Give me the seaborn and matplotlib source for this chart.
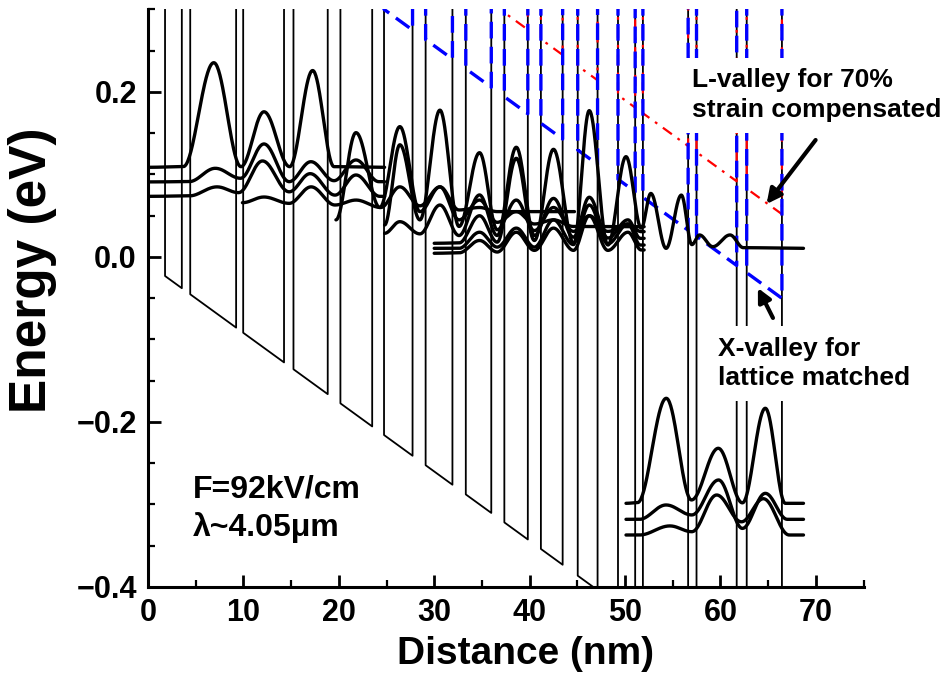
import numpy as np
import pandas as pd
import matplotlib
matplotlib.use("Agg")
import matplotlib.pyplot as plt
from matplotlib.ticker import MultipleLocator
import seaborn as sns

# ---------------- data ----------------
# layer interfaces (nm): barrier|well|barrier|well ...
interfaces = [1.79, 3.55, 4.43, 9.24, 9.98, 14.26, 15.25, 18.84, 20.17, 23.50,
              24.74, 27.73, 29.10, 31.91, 33.31, 35.98, 37.35, 39.81, 41.18, 43.46,
              45.04, 47.12, 49.26, 51.06, 51.87, 56.61, 57.49, 61.70, 62.75, 66.44]
x_end = 68.7
slope = 0.0084            # eV/nm, band tilt under bias
gamma_well0 = -0.008      # Gamma well bottom at x=0 (eV)
gamma_barrier_step = 1.0  # barrier height (off scale)
xval_well0 = 0.508        # X-valley (lattice matched) in wells at x=0
lval_well0 = 0.610        # L-valley (70% strain compensated) in wells at x=0
valley_barrier_step = 0.8

# wavefunctions: (x in nm, energy in eV) extrema
A1_x = [0, 3.7, 6.9, 9.75, 12.16, 14.85, 17.26, 19.5, 24.8]
A1_E = [0.1087, 0.1095, 0.2355, 0.1095, 0.176, 0.1095, 0.226, 0.1095, 0.1087]
A2_x = [0, 4.3, 7.06, 9.7, 12.16, 14.8, 17.08, 19.5, 21.8, 24.2, 24.8]
A2_E = [0.091, 0.0913, 0.1075, 0.0954, 0.137, 0.0913, 0.1155, 0.0925, 0.1176, 0.0913, 0.0913]
A3_x = [0, 4.3, 7.24, 9.5, 12.0, 14.8, 17.0, 19.6, 21.8, 24.3, 24.8]
A3_E = [0.0735, 0.074, 0.085, 0.078, 0.1164, 0.079, 0.101, 0.075, 0.0994, 0.0735, 0.0735]
A4_x = [9.9, 12.16, 14.8, 17.1, 19.6, 21.8, 24.4, 26.4, 28.5, 30.6, 32.6, 34.75, 36.6, 44.7]
A4_E = [0.0658, 0.0727, 0.065, 0.085, 0.063, 0.069, 0.06, 0.085, 0.062, 0.085, 0.057, 0.06, 0.055, 0.055]
M1_x = [19.7, 21.8, 24.3, 26.4, 28.5, 30.6, 32.6, 34.75, 36.6, 38.6, 40.5, 42.5, 44.6, 52.0]
M1_E = [0.045, 0.1507, 0.06, 0.158, 0.055, 0.085, 0.045, 0.069, 0.042, 0.055, 0.04, 0.045, 0.037, 0.0367]
M2_x = [24.8, 26.4, 28.5, 30.6, 32.6, 34.75, 36.6, 38.6, 40.5, 42.5, 44.6, 46.25, 48.2, 50.3, 51.7, 52.0]
M2_E = [0.0388, 0.136, 0.045, 0.178, 0.037, 0.1264, 0.033, 0.069, 0.032, 0.06, 0.031, 0.05, 0.031, 0.04, 0.0307, 0.0307]
M3_x = [24.8, 26.4, 28.5, 30.6, 32.6, 34.75, 36.6, 38.6, 40.5, 42.5, 44.6, 46.25, 48.2, 50.3, 51.6, 52.0]
M3_E = [0.0287, 0.0428, 0.028, 0.063, 0.026, 0.0752, 0.026, 0.133, 0.026, 0.071, 0.024, 0.0724, 0.023, 0.045, 0.0226, 0.0226]
M4_x = [30.0, 32.6, 34.75, 36.6, 38.6, 40.5, 42.5, 44.6, 46.25, 48.2, 50.3, 51.6, 52.0]
M4_E = [0.0166, 0.017, 0.05, 0.018, 0.1196, 0.02, 0.1305, 0.017, 0.063, 0.016, 0.04, 0.0145, 0.0145]
C1_x = [30.0, 32.6, 34.75, 36.6, 38.6, 40.5, 42.5, 44.6, 46.25, 48.2, 50.1, 51.7, 52.7,
        54.3, 55.9, 57.0, 57.8, 59.2, 61.0, 62.4, 68.7]
C1_E = [0.0105, 0.0105, 0.03, 0.012, 0.035, 0.012, 0.045, 0.015, 0.1774, 0.0145, 0.1216, 0.035, 0.077,
        0.0105, 0.075, 0.015, 0.0267, 0.0125, 0.0267, 0.0113, 0.0105]
M6_x = [30.0, 32.6, 34.75, 36.6, 38.6, 40.5, 42.5, 44.6, 46.25, 48.2, 50.3, 51.7, 52.0]
M6_E = [0.0045, 0.005, 0.02, 0.006, 0.03, 0.008, 0.035, 0.008, 0.05, 0.008, 0.03, 0.0085, 0.0085]
R1_x = [50.1, 51.3, 54.32, 56.96, 59.77, 62.3, 64.7, 66.8, 68.7]
R1_E = [-0.2986, -0.2978, -0.1713, -0.2945, -0.2319, -0.298, -0.1834, -0.2986, -0.2986]
R2_x = [50.1, 51.5, 54.3, 57.0, 59.8, 62.3, 64.7, 67.0, 68.7]
R2_E = [-0.318, -0.318, -0.3006, -0.3127, -0.2703, -0.329, -0.2865, -0.318, -0.318]
R3_x = [50.1, 51.5, 54.7, 57.0, 59.6, 62.2, 64.5, 67.2, 68.7]
R3_E = [-0.337, -0.337, -0.326, -0.333, -0.2885, -0.321, -0.293, -0.337, -0.337]

states = [(A1_x, A1_E), (A2_x, A2_E), (A3_x, A3_E), (A4_x, A4_E), (M1_x, M1_E),
          (M2_x, M2_E), (M3_x, M3_E), (M4_x, M4_E), (C1_x, C1_E), (M6_x, M6_E),
          (R1_x, R1_E), (R2_x, R2_E), (R3_x, R3_E)]

xticks = [0, 10, 20, 30, 40, 50, 60, 70]
yticks = [-0.4, -0.2, 0.0, 0.2]
ytick_labels = ["\u22120.4", "\u22120.2", "0.0", "0.2"]

# ---------------- style ----------------
sns.set_theme(style="ticks")
plt.rcParams["font.family"] = ["Liberation Sans", "DejaVu Sans"]
plt.rcParams["lines.scale_dashes"] = False
plt.rcParams["text.color"] = "black"

fig = plt.figure(figsize=(9.46, 6.93), dpi=100)
ax = fig.add_axes([0.1564, 0.153, 0.7565, 0.8333])


def profile(well0, step):
    xs, ys = [0.0], [well0 + step]
    for i, xi in enumerate(interfaces):
        w = well0 - slope * xi
        if i % 2 == 0:   # barrier -> well
            xs += [xi, xi]; ys += [w + step, w]
        else:            # well -> barrier
            xs += [xi, xi]; ys += [w, w + step]
    xs.append(x_end); ys.append(well0 - slope * x_end + step)
    return np.array(xs), np.array(ys)


def smooth(px, py, n=40):
    xs, ys = [], []
    for x0, y0, x1, y1 in zip(px[:-1], py[:-1], px[1:], py[1:]):
        t = np.linspace(0, 1, n, endpoint=False)
        xs.extend(x0 + (x1 - x0) * t)
        ys.extend(y0 + (y1 - y0) * (1 - np.cos(np.pi * t)) / 2)
    xs.append(px[-1]); ys.append(py[-1])
    return np.array(xs), np.array(ys)


# Gamma band profile
gx, gy = profile(gamma_well0, gamma_barrier_step)
sns.lineplot(x=gx, y=gy, ax=ax, sort=False, estimator=None, color="black", lw=1.3, zorder=2)
# L-valley (red dash-dot)
lx, ly = profile(lval_well0, valley_barrier_step)
sns.lineplot(x=lx, y=ly, ax=ax, sort=False, estimator=None, color="#ff0000", lw=1.6,
             linestyle=(0, (8, 5, 2, 5)), zorder=3)
# X-valley (blue dashed)
xx, xy = profile(xval_well0, valley_barrier_step)
sns.lineplot(x=xx, y=xy, ax=ax, sort=False, estimator=None, color="#0000ff", lw=2.4,
             linestyle=(0, (12, 6)), zorder=4)

for sx, sy in states:
    cx, cy = smooth(sx, sy)
    sns.lineplot(x=cx, y=cy, ax=ax, sort=False, estimator=None, color="black", lw=2.4, zorder=5)

ax.set_xlim(0, 75)
ax.set_ylim(-0.4, 0.3)
ax.set_xticks(xticks)
ax.set_xticklabels([str(t) for t in xticks])
ax.set_yticks(yticks)
ax.set_yticklabels(ytick_labels)
ax.xaxis.set_minor_locator(MultipleLocator(5))
ax.yaxis.set_minor_locator(MultipleLocator(0.05))
ax.tick_params(which="major", direction="in", length=9, width=2, color="black",
               labelsize=22, labelcolor="black", bottom=True, left=True, pad=8)
ax.tick_params(which="minor", direction="in", length=5, width=1.6, color="black",
               bottom=True, left=True)
for lab in ax.get_xticklabels() + ax.get_yticklabels():
    lab.set_fontweight("bold")
for s in ["top", "right"]:
    ax.spines[s].set_visible(False)
for s in ["left", "bottom"]:
    ax.spines[s].set_linewidth(2.2)
    ax.spines[s].set_color("black")

ax.set_xlabel("Distance (nm)", fontsize=28, fontweight="bold", color="black")
ax.set_ylabel("Energy (eV)", fontsize=37, fontweight="bold", color="black")
ax.xaxis.set_label_coords(0.528, -0.085)
ax.yaxis.set_label_coords(-0.127, 0.549)

ax.text(4.74, -0.2824, "F=92kV/cm", fontsize=23, fontweight="bold", va="center", ha="left")
ax.text(4.74, -0.3285, "λ~4.05μm", fontsize=23, fontweight="bold", va="center", ha="left")

ax.text(57.05, 0.196, "L-valley for 70%\nstrain compensated", fontsize=19, fontweight="bold",
        va="center", ha="left", linespacing=1.3, clip_on=False, zorder=10,
        bbox=dict(boxstyle="square,pad=0.4", fc="white", ec="none"))
ax.text(59.77, -0.129, "X-valley for\nlattice matched", fontsize=19, fontweight="bold",
        va="center", ha="left", linespacing=1.3, clip_on=False, zorder=10,
        bbox=dict(boxstyle="square,pad=0.4", fc="white", ec="none"))

ax.annotate("", xy=(64.83, 0.0642), xytext=(69.97, 0.1418), annotation_clip=False, zorder=11,
            arrowprops=dict(arrowstyle="-|>", color="black", lw=3, mutation_scale=22,
                            shrinkA=0, shrinkB=0))
ax.annotate("", xy=(63.92, -0.0376), xytext=(65.5, -0.0739), annotation_clip=False, zorder=11,
            arrowprops=dict(arrowstyle="-|>", color="black", lw=3, mutation_scale=20,
                            shrinkA=0, shrinkB=0))

fig.savefig("out.png", dpi=100)
